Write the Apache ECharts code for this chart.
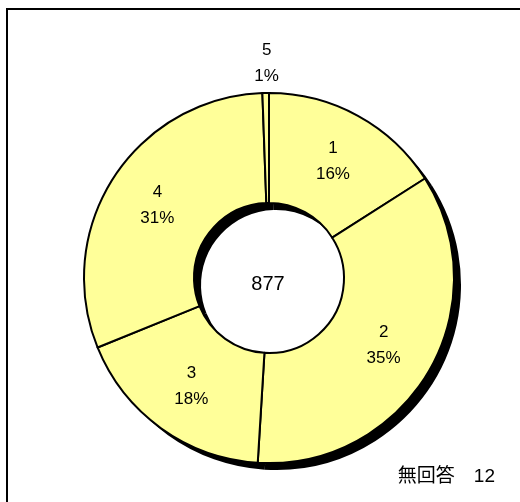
<!DOCTYPE html>
<html>
<head>
<meta charset="utf-8">
<script src="https://cdn.jsdelivr.net/npm/echarts@6/dist/echarts.min.js"></script>
<style>html,body{margin:0;padding:0;background:#fff}#c{width:520px;height:502px}</style>
</head>
<body>
<div id="c"></div>
<script>
const categories = ['1', '2', '3', '4', '5'];
const counts = [140, 307, 157, 268, 5];
const totalLabel = '877';
const noAnswerLabel = '無回答';
const noAnswerCount = 12;

const FONT = '"Liberation Sans", Arial, "Noto Sans CJK JP", sans-serif';
const total = counts.reduce((a, b) => a + b, 0);
const pct = v => Math.round(v / total * 100) + '%';
const lastIdx = categories.length - 1;

const mainData = categories.map((c, i) => ({ name: c, value: counts[i] }));
const shadowData = categories.map((c, i) => ({ name: c, value: counts[i] }));

const chart = echarts.init(document.getElementById('c'), null, { renderer: 'canvas' });
chart.setOption({
  backgroundColor: '#ffffff',
  animation: false,
  graphic: [
    { type: 'rect', shape: { x: 7, y: 9, width: 700, height: 700 },
      style: { fill: 'none', stroke: '#000', lineWidth: 2 }, z: 0 },
    { type: 'text', x: 268, y: 284, z: 10,
      style: { text: totalLabel, font: '20px ' + FONT, fill: '#000', textAlign: 'center', textVerticalAlign: 'middle' } },
    { type: 'text', x: 495, y: 477, z: 10,
      style: { text: noAnswerLabel + '　' + noAnswerCount, font: '19px ' + FONT, fill: '#000', textAlign: 'right', textVerticalAlign: 'middle' } }
  ],
  series: [
    {
      type: 'pie', silent: true, z: 1,
      center: [276, 285], radius: [75, 185],
      startAngle: 90, clockwise: true,
      data: shadowData,
      itemStyle: { color: '#000', borderColor: '#000', borderWidth: 0 },
      label: { show: false }, labelLine: { show: false }
    },
    {
      type: 'pie', silent: true, z: 2,
      center: [269, 278], radius: [75, 185],
      startAngle: 90, clockwise: true,
      data: mainData,
      itemStyle: { color: '#FFFF99', borderColor: '#000', borderWidth: 2 },
      label: {
        show: true, position: 'inside', color: '#000',
        fontFamily: FONT, fontSize: 17, lineHeight: 26, align: 'center',
        formatter: p => p.dataIndex === lastIdx
          ? '{a|' + p.name + '}\n{a|' + pct(p.value) + '}\n{sp| }'
          : p.name + '\n' + pct(p.value),
        rich: {
          a: { fontFamily: FONT, fontSize: 17, lineHeight: 26, color: '#000', align: 'center' },
          sp: { fontSize: 2, lineHeight: 164 }
        }
      },
      labelLine: { show: false }
    }
  ]
});
</script>
</body>
</html>
